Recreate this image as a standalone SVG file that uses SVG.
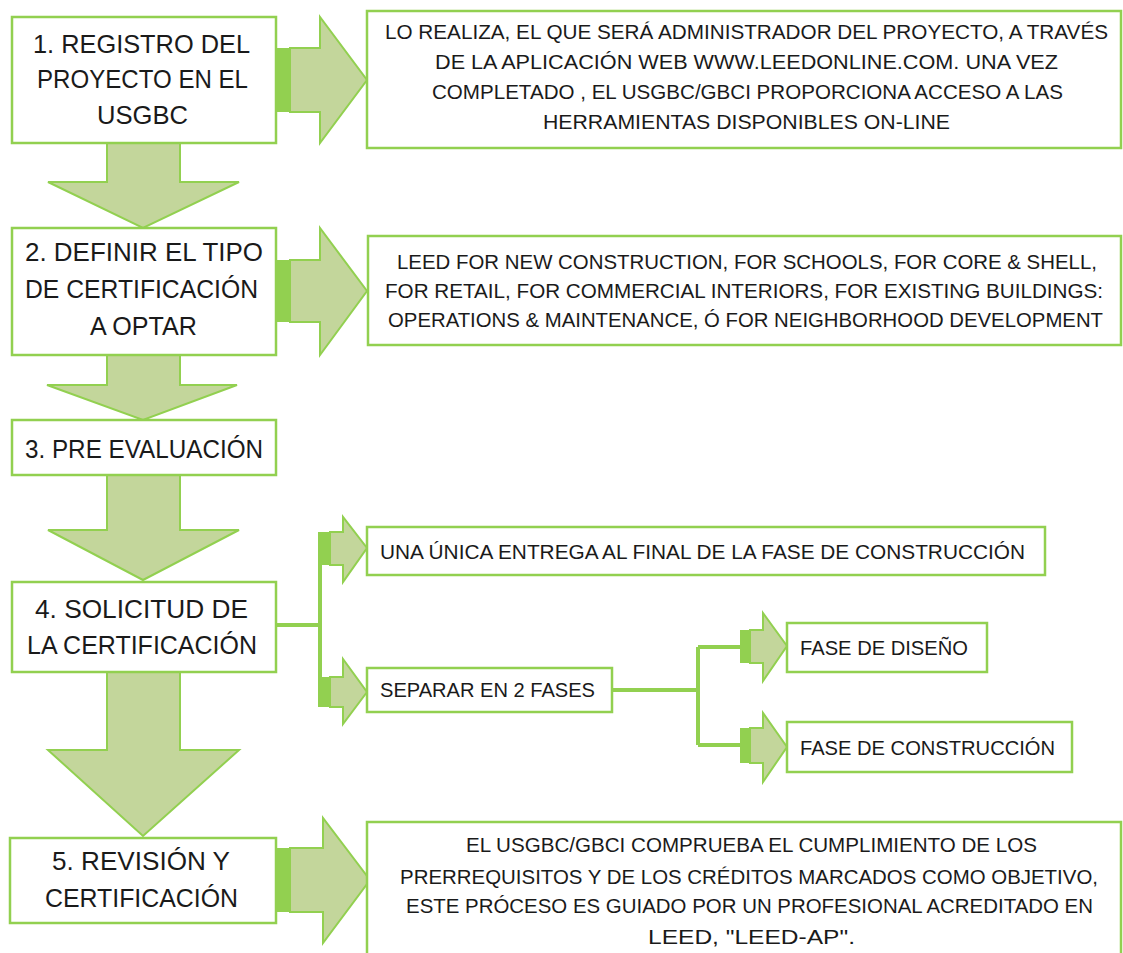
<svg xmlns="http://www.w3.org/2000/svg" width="1123" height="953" viewBox="0 0 1123 953">
<style>
.box{fill:#ffffff;stroke:#92d050;stroke-width:2.5}
.arr{fill:#c3d69b;stroke:#92d050;stroke-width:2;stroke-linejoin:miter}
.strip{fill:#92d050;stroke:none}
.ln{fill:none;stroke:#92d050;stroke-width:4}
.tl{font-family:"Liberation Sans",Arial,sans-serif;font-size:26px;fill:#1a1a1a}
.tr{font-family:"Liberation Sans",Arial,sans-serif;font-size:20px;fill:#1a1a1a}
</style>
<rect width="1123" height="953" fill="#ffffff"/>
<g id="connectors">
  <polygon class="arr" points="107,141 180,141 180,182 239,182 143,228 48,182 107,182"/>
  <polygon class="arr" points="107,353 180,353 180,385 237,385 143,420 47,385 107,385"/>
  <polygon class="arr" points="107,473 180,473 180,530 239,530 143,580 48,530 107,530"/>
  <polygon class="arr" points="107,670 180,670 180,750 239,750 143,836 48,750 107,750"/>
  <rect class="strip" x="276" y="48" width="14" height="64"/>
  <polygon class="arr" points="290,48 320,48 320,17 367,80 320,143 320,112 290,112"/>
  <rect class="strip" x="276" y="260" width="14" height="62"/>
  <polygon class="arr" points="290,260 320,260 320,228 367,291 320,355 320,322 290,322"/>
  <rect class="strip" x="276" y="848" width="14" height="64"/>
  <polygon class="arr" points="290,848 323,848 323,818 370,880 323,943 323,912 290,912"/>
  <path class="ln" d="M276 625 H320 M320 532 V707"/>
  <rect class="strip" x="320" y="532" width="10" height="33"/>
  <polygon class="arr" points="330,532 343,532 343,517 367,548 343,582 343,565 330,565"/>
  <rect class="strip" x="320" y="677" width="10" height="30"/>
  <polygon class="arr" points="330,677 343,677 343,659 367,692 343,724 343,707 330,707"/>
  <path class="ln" d="M612 690 H698 M698 647 V745 M698 647 H740 M698 745 H740"/>
  <rect class="strip" x="740" y="630" width="10" height="33"/>
  <polygon class="arr" points="750,630 763,630 763,613 787,646 763,681 763,663 750,663"/>
  <rect class="strip" x="740" y="728" width="10" height="35"/>
  <polygon class="arr" points="750,728 763,728 763,713 787,747 763,782 763,763 750,763"/>
</g>
<g id="n1">
  <rect class="box" x="12" y="17" width="264" height="126"/>
  <text class="tl" x="33" y="53" textLength="217" lengthAdjust="spacingAndGlyphs">1. REGISTRO DEL</text>
  <text class="tl" x="37" y="88" textLength="211" lengthAdjust="spacingAndGlyphs">PROYECTO EN EL</text>
  <text class="tl" x="97" y="124" textLength="91" lengthAdjust="spacingAndGlyphs">USGBC</text>
</g>
<g id="n1d">
  <rect class="box" x="367" y="11" width="754" height="137"/>
  <text class="tr" x="385" y="39" textLength="723" lengthAdjust="spacingAndGlyphs">LO REALIZA,  EL QUE SERÁ ADMINISTRADOR  DEL PROYECTO, A TRAVÉS</text>
  <text class="tr" x="435" y="69" textLength="623" lengthAdjust="spacingAndGlyphs">DE LA APLICACIÓN  WEB WWW.LEEDONLINE.COM.  UNA VEZ</text>
  <text class="tr" x="432" y="99" textLength="631" lengthAdjust="spacingAndGlyphs">COMPLETADO , EL USGBC/GBCI  PROPORCIONA ACCESO A LAS</text>
  <text class="tr" x="543" y="129" textLength="407" lengthAdjust="spacingAndGlyphs">HERRAMIENTAS DISPONIBLES  ON-LINE</text>
</g>
<g id="n2">
  <rect class="box" x="12" y="228" width="264" height="127"/>
  <text class="tl" x="25" y="261" textLength="238" lengthAdjust="spacingAndGlyphs">2. DEFINIR EL TIPO</text>
  <text class="tl" x="25" y="298" textLength="233" lengthAdjust="spacingAndGlyphs">DE CERTIFICACIÓN</text>
  <text class="tl" x="90" y="335" textLength="107" lengthAdjust="spacingAndGlyphs">A OPTAR</text>
</g>
<g id="n2d">
  <rect class="box" x="368" y="236" width="753" height="109"/>
  <text class="tr" x="397" y="269" textLength="700" lengthAdjust="spacingAndGlyphs">LEED  FOR NEW CONSTRUCTION, FOR SCHOOLS,  FOR CORE &amp; SHELL,</text>
  <text class="tr" x="385" y="298" textLength="718" lengthAdjust="spacingAndGlyphs">FOR RETAIL, FOR COMMERCIAL INTERIORS, FOR EXISTING  BUILDINGS:</text>
  <text class="tr" x="388" y="327" textLength="715" lengthAdjust="spacingAndGlyphs">OPERATIONS &amp; MAINTENANCE,  Ó FOR NEIGHBORHOOD  DEVELOPMENT</text>
</g>
<g id="n3">
  <rect class="box" x="12" y="420" width="264" height="55"/>
  <text class="tl" x="25" y="458" textLength="238" lengthAdjust="spacingAndGlyphs">3. PRE EVALUACIÓN</text>
</g>
<g id="n4">
  <rect class="box" x="12" y="582" width="264" height="90"/>
  <text class="tl" x="35" y="618" textLength="213" lengthAdjust="spacingAndGlyphs">4. SOLICITUD DE</text>
  <text class="tl" x="27" y="654" textLength="230" lengthAdjust="spacingAndGlyphs">LA CERTIFICACIÓN</text>
</g>
<g id="n4a">
  <rect class="box" x="367" y="527" width="678" height="48"/>
  <text class="tr" x="380" y="559" textLength="645" lengthAdjust="spacingAndGlyphs">UNA ÚNICA ENTREGA AL FINAL DE LA FASE DE CONSTRUCCIÓN</text>
</g>
<g id="n4b">
  <rect class="box" x="367" y="668" width="245" height="44"/>
  <text class="tr" x="380" y="697" textLength="215" lengthAdjust="spacingAndGlyphs">SEPARAR EN 2 FASES</text>
</g>
<g id="n4b1">
  <rect class="box" x="787" y="623" width="200" height="49"/>
  <text class="tr" x="800" y="655" textLength="168" lengthAdjust="spacingAndGlyphs">FASE DE DISEÑO</text>
</g>
<g id="n4b2">
  <rect class="box" x="787" y="722" width="285" height="50"/>
  <text class="tr" x="800" y="755" textLength="255" lengthAdjust="spacingAndGlyphs">FASE DE CONSTRUCCIÓN</text>
</g>
<g id="n5">
  <rect class="box" x="10" y="838" width="266" height="85"/>
  <text class="tl" x="52" y="870" textLength="178" lengthAdjust="spacingAndGlyphs">5. REVISIÓN Y</text>
  <text class="tl" x="45" y="907" textLength="193" lengthAdjust="spacingAndGlyphs">CERTIFICACIÓN</text>
</g>
<g id="n5d">
  <rect class="box" x="367" y="822" width="754" height="150"/>
  <text class="tr" x="466" y="852" textLength="571" lengthAdjust="spacingAndGlyphs">EL USGBC/GBCI COMPRUEBA EL CUMPLIMIENTO DE LOS</text>
  <text class="tr" x="400" y="884" textLength="698" lengthAdjust="spacingAndGlyphs">PRERREQUISITOS Y DE LOS CRÉDITOS MARCADOS COMO OBJETIVO,</text>
  <text class="tr" x="406" y="913" textLength="687" lengthAdjust="spacingAndGlyphs">ESTE PRÓCESO ES GUIADO POR UN PROFESIONAL  ACREDITADO EN</text>
  <text class="tr" x="648" y="944" textLength="207" lengthAdjust="spacingAndGlyphs">LEED,  "LEED-AP".</text>
</g>
</svg>
